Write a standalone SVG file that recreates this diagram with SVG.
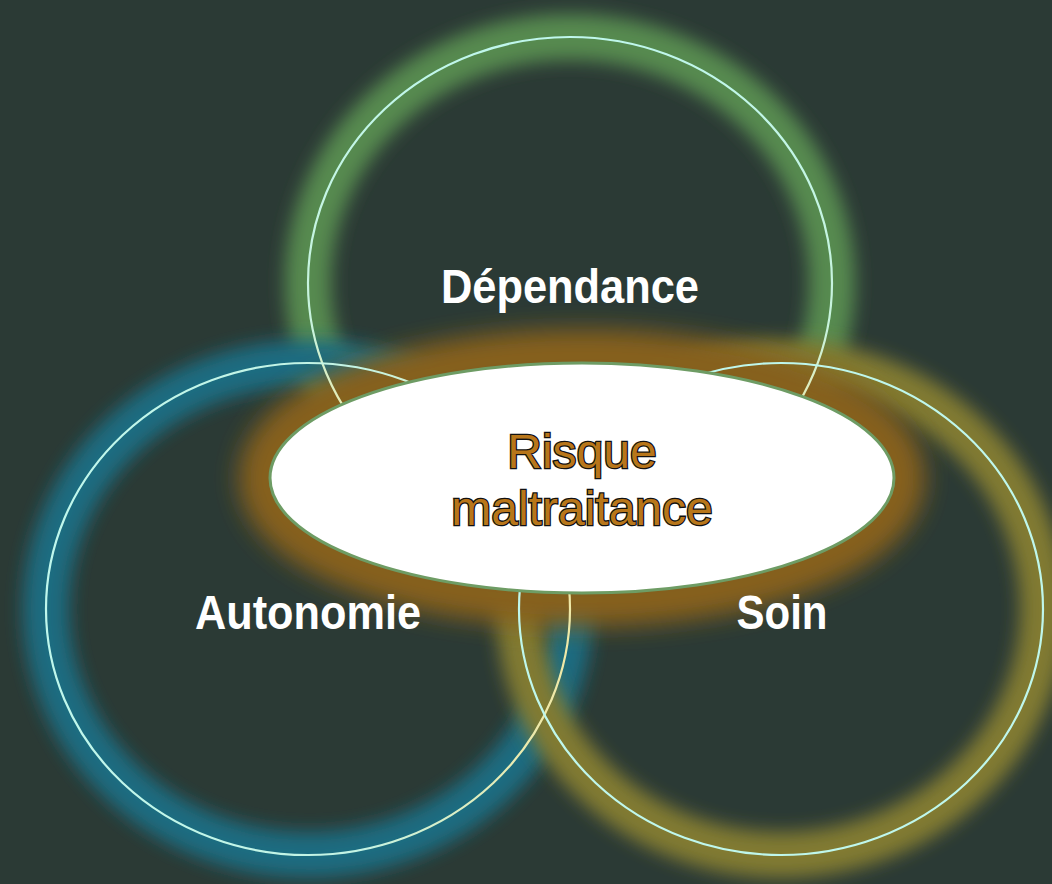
<svg xmlns="http://www.w3.org/2000/svg" width="1052" height="884" viewBox="0 0 1052 884">
<defs>
<filter id="blur" x="-20%" y="-20%" width="140%" height="140%"><feGaussianBlur stdDeviation="9"/></filter>
<filter id="blur2" x="-20%" y="-30%" width="140%" height="160%"><feGaussianBlur stdDeviation="12"/></filter>
<linearGradient id="gGreen" gradientUnits="userSpaceOnUse" x1="570" y1="37" x2="570" y2="529"><stop offset="0" stop-color="#bff7ec"/><stop offset="0.6" stop-color="#c8f3dc"/><stop offset="0.8" stop-color="#efe9a8"/></linearGradient>
<linearGradient id="gBlue" gradientUnits="userSpaceOnUse" x1="46" y1="609" x2="570" y2="609"><stop offset="0" stop-color="#bff7ec"/><stop offset="0.6" stop-color="#c4f4e4"/><stop offset="0.95" stop-color="#efe9a8"/></linearGradient>
<linearGradient id="gYellow" gradientUnits="userSpaceOnUse" x1="519" y1="609" x2="1043" y2="609"><stop offset="0" stop-color="#bff7ec"/><stop offset="1" stop-color="#bff7ec"/></linearGradient>
<style>
.glow{fill:none;stroke-width:46;filter:url(#blur)}
.line{fill:none;stroke-width:2.2}
.lbl{font-family:"Liberation Sans",Arial,sans-serif;font-size:48px;fill:#ffffff;text-anchor:middle;font-weight:bold}
.ctr{font-family:"Liberation Sans",Arial,sans-serif;font-size:48px;fill:#b8761a;stroke:#111;stroke-width:2.6;paint-order:stroke;text-anchor:middle}
</style>
</defs>
<rect width="1052" height="884" fill="#2b3a35"/>
<g id="glows">
<ellipse class="glow" cx="570" cy="283" rx="262" ry="246" stroke="#568a4f"/>
<ellipse class="glow" cx="308" cy="609" rx="262" ry="246" stroke="#1f6c80"/>
<ellipse class="glow" cx="781" cy="609" rx="262" ry="246" stroke="#817a33"/>
<ellipse cx="582" cy="478" rx="316" ry="122" fill="none" stroke="#86601c" stroke-width="54" filter="url(#blur2)"/>
</g>
<g id="connectors">
<ellipse class="line" cx="570" cy="283" rx="262" ry="246" stroke="url(#gGreen)"/>
<ellipse class="line" cx="308" cy="609" rx="262" ry="246" stroke="url(#gBlue)"/>
<ellipse class="line" cx="781" cy="609" rx="262" ry="246" stroke="url(#gYellow)"/>
</g>
<g id="dependance"><text class="lbl" x="570" y="303" textLength="258" lengthAdjust="spacingAndGlyphs">Dépendance</text></g>
<g id="autonomie"><text class="lbl" x="308" y="629" textLength="226" lengthAdjust="spacingAndGlyphs">Autonomie</text></g>
<g id="soin"><text class="lbl" x="782" y="629" textLength="91" lengthAdjust="spacingAndGlyphs">Soin</text></g>
<g id="risque">
<ellipse cx="582" cy="478" rx="312" ry="115" fill="#ffffff" stroke="#6e9c64" stroke-width="3"/>
<text class="ctr" x="582" y="468">Risque</text>
<text class="ctr" x="582" y="525">maltraitance</text>
</g>
</svg>
